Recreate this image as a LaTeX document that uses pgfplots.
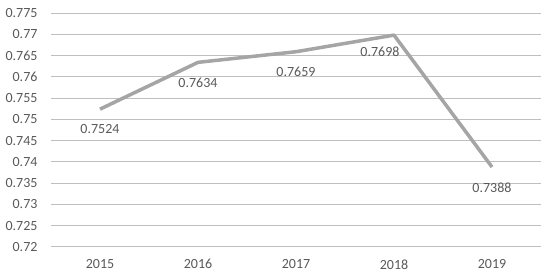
\documentclass[border=0pt]{standalone}
\usepackage{pgfplots}
\pgfplotsset{compat=1.18}
\usepackage{fontspec}
\setmainfont{Carlito}
\definecolor{txt}{RGB}{89,89,89}
\definecolor{grid}{RGB}{217,217,217}
\definecolor{ln}{RGB}{165,165,165}
\begin{document}
\begin{tikzpicture}
\useasboundingbox (0,0) rectangle (550pt,276pt);
\begin{axis}[
    at={(51pt,29pt)}, anchor=south west,
    scale only axis,
    width=490pt, height=234pt,
    xmin=-0.5, xmax=4.5,
    ymin=0.72, ymax=0.775,
    xtick={0,1,2,3,4},
    xticklabels={2015,2016,2017,2018,2019},
    ytick={0.72,0.725,0.73,0.735,0.74,0.745,0.75,0.755,0.76,0.765,0.77,0.775},
    axis line style={draw=none},
    xmajorgrids=false,
    ymajorgrids=true,
    grid style={grid, line width=1pt},
    tick style={draw=none},
    major tick length=0pt,
    tick label style={font=\fontsize{14}{16}\selectfont, text=txt},
    yticklabel style={/pgf/number format/fixed, /pgf/number format/precision=3, xshift=-10pt},
    xticklabel style={yshift=-9pt},
    /pgf/number format/assume math mode=true,
    clip=false,
]
\addplot[ln, line width=3.5pt, line join=round] coordinates {
    (0,0.7524)(1,0.7634)(2,0.7659)(3,0.7698)(4,0.7388)
};
\addplot[draw=none, nodes near coords, point meta=y,
    every node near coord/.style={anchor=north, yshift=-12pt, text=txt,
      font=\fontsize{14}{16}\selectfont,
      /pgf/number format/fixed, /pgf/number format/precision=4,
      /pgf/number format/fixed zerofill}]
    coordinates {(0,0.7524)(1,0.7634)(2,0.7659)(4,0.7388)};
\addplot[draw=none, nodes near coords, point meta=y,
    every node near coord/.style={anchor=north, yshift=-8pt, xshift=-14pt, text=txt,
      font=\fontsize{14}{16}\selectfont,
      /pgf/number format/fixed, /pgf/number format/precision=4,
      /pgf/number format/fixed zerofill}]
    coordinates {(3,0.7698)};
\end{axis}
\end{tikzpicture}
\end{document}
